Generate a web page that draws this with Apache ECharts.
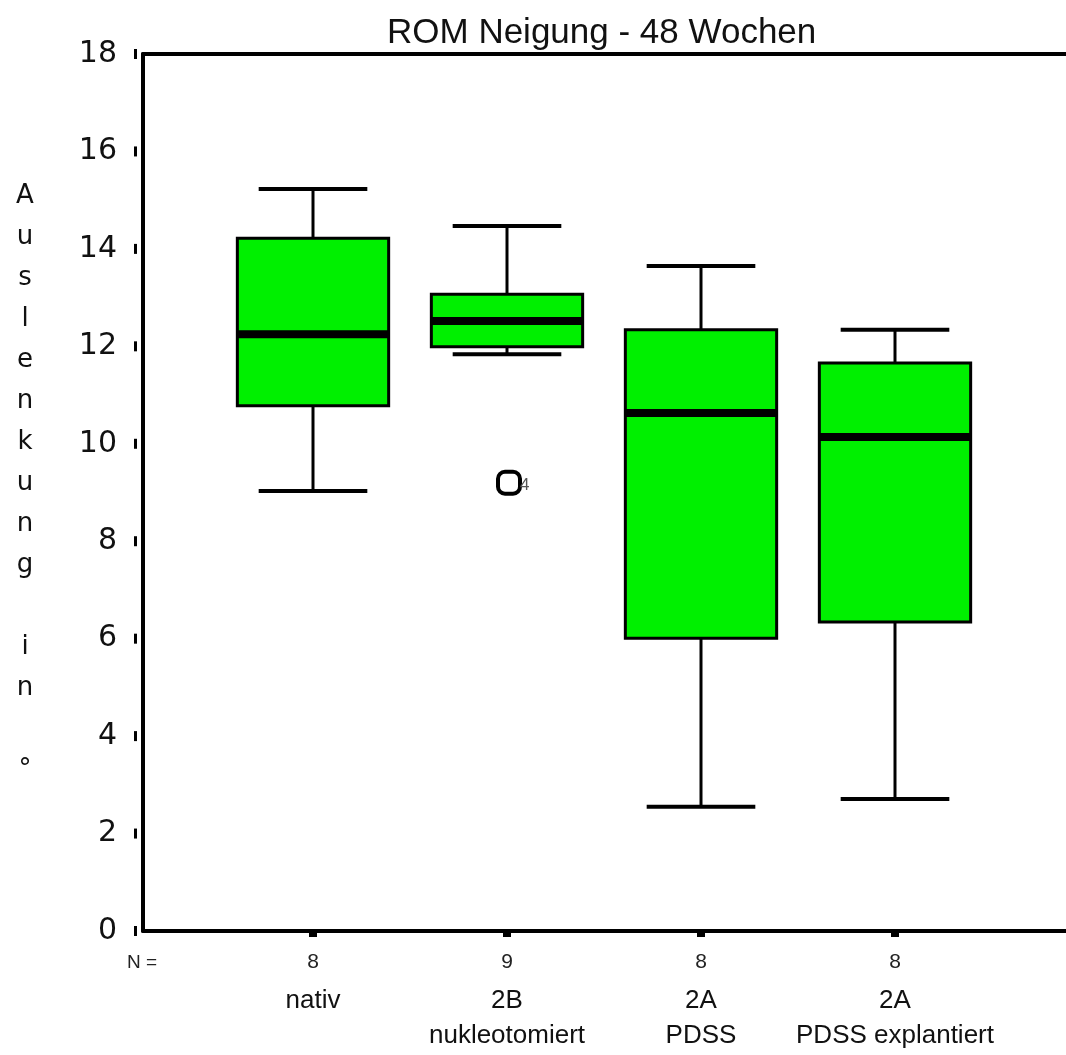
<!DOCTYPE html>
<html>
<head>
<meta charset="utf-8">
<script src="https://cdn.jsdelivr.net/npm/echarts@6/dist/echarts.min.js"></script>
<style>
  html, body { margin: 0; padding: 0; background: #fff; }
  #chart { width: 1066px; height: 1055px; }
</style>
</head>
<body>
<div id="chart"></div>
<script>
// data
const groups = ['nativ', '2B\nnukleotomiert', '2A\nPDSS', '2A\nPDSS explantiert'];
const counts = [8, 9, 8, 8];
// [low whisker, Q1, median, Q3, high whisker]
const lowWhisker = [9.03, 11.84, 2.55, 2.71];
const q1 = [10.78, 11.99, 6.01, 6.34];
const median = [12.25, 12.52, 10.63, 10.14];
const q3 = [14.22, 13.07, 12.34, 11.66];
const highWhisker = [15.23, 14.47, 13.65, 12.34];
// outliers: group index, value, case label
const outlierGroup = [1];
const outlierValue = [9.2];
const outlierLabel = ['4'];

const yTicks = [0, 2, 4, 6, 8, 10, 12, 14, 16, 18];
const yTitle = 'Auslenkung in °';

const boxData = groups.map((g, i) => [i, lowWhisker[i], q1[i], median[i], q3[i], highWhisker[i]]);
const outlierData = outlierGroup.map((g, i) => [g, outlierValue[i], outlierLabel[i]]);

const GREEN = '#00f000';

function renderBox(params, api) {
    const x = api.value(0);
    const lo = api.coord([x, api.value(1)]);
    const b1 = api.coord([x, api.value(2)]);
    const md = api.coord([x, api.value(3)]);
    const b3 = api.coord([x, api.value(4)]);
    const hi = api.coord([x, api.value(5)]);
    const band = api.size([1, 0])[0];
    const bw = band * 0.78;
    const cw = band * 0.56;
    const cx = lo[0];
    const line = (x1, y1, x2, y2, w) => ({
        type: 'line',
        shape: {x1, y1, x2, y2},
        style: {stroke: '#000', lineWidth: w}
    });
    return {
        type: 'group',
        children: [
            line(cx, hi[1], cx, b3[1], 3),
            line(cx, b1[1], cx, lo[1], 3),
            line(cx - cw / 2, hi[1], cx + cw / 2, hi[1], 4),
            line(cx - cw / 2, lo[1], cx + cw / 2, lo[1], 4),
            {
                type: 'rect',
                shape: {x: cx - bw / 2, y: b3[1], width: bw, height: b1[1] - b3[1]},
                style: {fill: GREEN, stroke: '#000', lineWidth: 3}
            },
            line(cx - bw / 2, md[1], cx + bw / 2, md[1], 8)
        ]
    };
}

function renderOutlier(params, api) {
    const p = api.coord([api.value(0), api.value(1)]);
    const s = 22;
    return {
        type: 'group',
        children: [
            {
                type: 'rect',
                shape: {x: p[0] - s / 2 + 2, y: p[1] - s / 2, width: s, height: s, r: 7},
                style: {fill: '#fff', stroke: '#000', lineWidth: 4}
            },
            {
                type: 'text',
                x: p[0] + s / 2 + 2,
                y: p[1] + 3,
                style: {
                    text: api.value(2),
                    fill: '#555',
                    font: '17px "Liberation Sans", Arial, sans-serif',
                    verticalAlign: 'middle'
                }
            }
        ]
    };
}

const chart = echarts.init(document.getElementById('chart'), null, {renderer: 'canvas'});

const frameLine = {show: true, onZero: false, lineStyle: {color: '#000', width: 4}};

chart.setOption({
    animation: false,
    backgroundColor: '#fff',
    title: {
        text: 'ROM Neigung - 48 Wochen',
        left: 382,
        top: 11,
        textStyle: {
            fontFamily: '"Liberation Sans", Arial, sans-serif',
            fontWeight: 'normal',
            fontSize: 35,
            color: '#111'
        }
    },
    graphic: [
        {
            type: 'text',
            left: 127,
            top: 953,
            style: {
                text: 'N =',
                font: '19px "Liberation Sans", Arial, sans-serif',
                fill: '#222'
            }
        },
        {
            type: 'text',
            x: 25,
            y: 483,
            style: {
                text: yTitle.split('').join('\n'),
                font: '26px "DejaVu Sans", Verdana, sans-serif',
                fill: '#111',
                align: 'center',
                verticalAlign: 'middle',
                lineHeight: 41
            }
        }
    ],
    grid: [
        // frame
        {left: 143, right: 0, top: 54, bottom: 124},
        // boxes
        {left: 216, right: 74, top: 54, bottom: 124}
    ],
    xAxis: [
        {
            gridIndex: 0, type: 'value', min: 0, max: 1, position: 'bottom',
            axisLine: frameLine, axisTick: {show: false}, axisLabel: {show: false}, splitLine: {show: false}
        },
        {
            gridIndex: 0, type: 'value', min: 0, max: 1, position: 'top',
            axisLine: frameLine, axisTick: {show: false}, axisLabel: {show: false}, splitLine: {show: false}
        },
        {
            gridIndex: 1,
            type: 'category',
            data: counts.map(String),
            axisLine: {show: false},
            axisTick: {show: true, alignWithLabel: true, length: 6, lineStyle: {color: '#000', width: 8}},
            axisLabel: {
                interval: 0,
                margin: 21,
                fontFamily: '"Liberation Sans", Arial, sans-serif',
                fontSize: 21,
                color: '#222'
            }
        },
        {
            gridIndex: 1,
            type: 'category',
            data: groups,
            position: 'bottom',
            axisLine: {show: false},
            axisTick: {show: false},
            axisLabel: {
                interval: 0,
                margin: 52,
                fontFamily: '"Liberation Sans", Arial, sans-serif',
                fontSize: 26,
                lineHeight: 35,
                color: '#111'
            }
        }
    ],
    yAxis: [
        {
            gridIndex: 0,
            type: 'value',
            min: yTicks[0],
            max: yTicks[yTicks.length - 1],
            interval: 2,
            splitLine: {show: false},
            axisLine: frameLine,
            axisTick: {show: false},
            axisLabel: {
                margin: 6,
                formatter: v => '{v|' + v + '}{t|}',
                rich: {
                    v: {
                        fontFamily: '"DejaVu Sans", Verdana, sans-serif',
                        fontSize: 30,
                        color: '#111',
                        padding: [0, 17, 0, 0]
                    },
                    t: {
                        width: 3,
                        height: 10,
                        backgroundColor: '#000'
                    }
                }
            }
        },
        {
            gridIndex: 1,
            type: 'value',
            min: yTicks[0],
            max: yTicks[yTicks.length - 1],
            interval: 2,
            show: false
        }
    ],
    series: [
        {
            type: 'custom',
            xAxisIndex: 2,
            yAxisIndex: 1,
            renderItem: renderBox,
            data: boxData,
            z: 3
        },
        {
            type: 'custom',
            xAxisIndex: 2,
            yAxisIndex: 1,
            renderItem: renderOutlier,
            data: outlierData,
            z: 4
        }
    ]
});
</script>
</body>
</html>
